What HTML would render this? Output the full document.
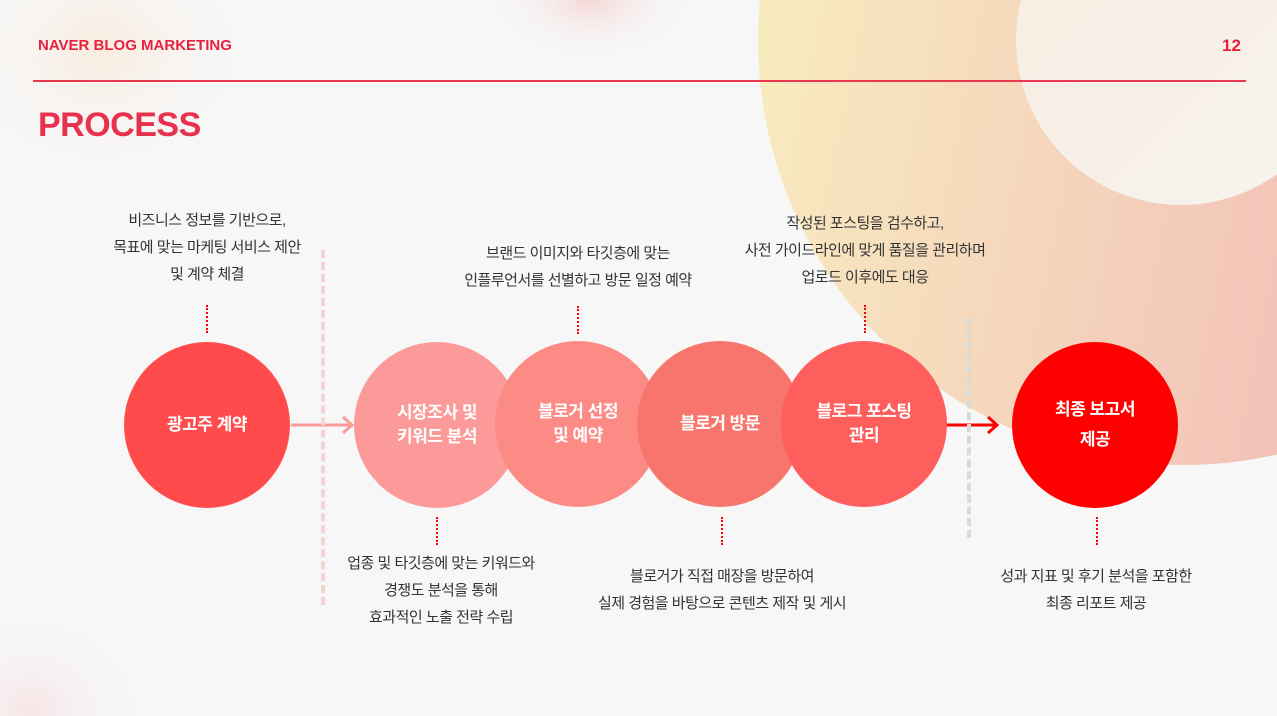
<!DOCTYPE html>
<html style="width:1277px;height:716px;overflow:hidden"><head><meta charset="utf-8"><style>
html,body{margin:0;padding:0}
body{width:1277px;height:716px;overflow:hidden;background:#f7f7f7;font-family:"Liberation Sans","Noto Sans CJK KR",sans-serif}
#w{position:relative;width:1277px;height:716px;overflow:hidden}
.a{position:absolute}
.c{position:absolute;width:166px;height:166px;border-radius:50%;display:flex;align-items:center;justify-content:center;text-align:center;color:#fff;font-size:17px;font-weight:bold;line-height:24px;letter-spacing:-0.5px}
.t{position:absolute;text-align:center;color:#333;font-size:15px;line-height:27px;letter-spacing:-0.5px;white-space:nowrap}
.d{position:absolute;width:0;border-left:2.5px dotted #f00;height:28px}
</style></head><body><div id="w">
<svg class="a" style="left:0;top:0" width="1277" height="716">
<defs>
<radialGradient id="b1"><stop offset="0" stop-color="#f5afaf" stop-opacity=".45"/><stop offset="1" stop-color="#f7f7f7" stop-opacity="0"/></radialGradient>
<radialGradient id="b2"><stop offset="0" stop-color="#fae4cd" stop-opacity=".6"/><stop offset="1" stop-color="#f7f7f7" stop-opacity="0"/></radialGradient>
<radialGradient id="b3"><stop offset="0" stop-color="#f8cdd2" stop-opacity=".45"/><stop offset="1" stop-color="#f7f7f7" stop-opacity="0"/></radialGradient>
<linearGradient id="g1" x1="0" y1="0" x2="1" y2="0.2"><stop offset="0" stop-color="#f9f1c0"/><stop offset=".35" stop-color="#f6dcbd"/><stop offset=".7" stop-color="#f3c7b9"/><stop offset="1" stop-color="#efb5ae"/></linearGradient>
<linearGradient id="g2" x1="0" y1="0" x2="1" y2="1"><stop offset="0" stop-color="#f8ede0"/><stop offset="1" stop-color="#f6f3ef"/></linearGradient>
</defs>
<ellipse cx="590" cy="0" rx="105" ry="60" fill="url(#b1)"/>
<ellipse cx="100" cy="50" rx="160" ry="130" fill="url(#b2)"/>
<ellipse cx="30" cy="710" rx="120" ry="100" fill="url(#b3)"/>
<circle cx="1183" cy="40" r="425" fill="url(#g1)"/>
<circle cx="1181" cy="40" r="165" fill="url(#g2)"/>
<path d="M291 425H351M343 417L352 425L343 433" stroke="#fc9a9a" stroke-width="3" fill="none"/>
<path d="M945 425H996M988 417L997 425L988 433" stroke="#f00" stroke-width="3" fill="none"/>
</svg>
<div class="a" style="left:38px;top:37px;color:#e8213f;font-weight:bold;font-size:15px">NAVER BLOG MARKETING</div>
<div class="a" style="left:1222px;top:36px;color:#e8213f;font-weight:bold;font-size:17px">12</div>
<div class="a" style="left:33px;top:80px;width:1213px;height:2px;background:#e8374f"></div>
<div class="a" style="left:38px;top:106px;color:#e8304f;font-weight:bold;font-size:34px;letter-spacing:-0.5px">PROCESS</div>
<div class="a" style="left:321px;top:250px;height:355px;border-left:4px dashed #f6d3d3"></div>
<div class="a" style="left:967px;top:318px;height:220px;border-left:4px dashed #d6dcd9"></div>
<div class="c" style="left:124px;top:342px;background:#ff4b4b">광고주 계약</div>
<div class="c" style="left:354px;top:342px;background:#fc9a9a">시장조사 및<br>키워드 분석</div>
<div class="c" style="left:495px;top:341px;background:#fc8a85">블로거 선정<br>및 예약</div>
<div class="c" style="left:637px;top:341px;background:#f8756e">블로거 방문</div>
<div class="c" style="left:781px;top:341px;background:#fe5f5c">블로그 포스팅<br>관리</div>
<div class="c" style="left:1012px;top:342px;background:#f00;line-height:30px">최종 보고서<br>제공</div>
<div class="d" style="left:206px;top:305px"></div>
<div class="d" style="left:577px;top:306px"></div>
<div class="d" style="left:864px;top:305px"></div>
<div class="d" style="left:436px;top:517px"></div>
<div class="d" style="left:721px;top:517px"></div>
<div class="d" style="left:1096px;top:517px"></div>
<div class="t" style="left:57px;width:300px;top:207px">비즈니스 정보를 기반으로,<br>목표에 맞는 마케팅 서비스 제안<br>및 계약 체결</div>
<div class="t" style="left:428px;width:300px;top:240px">브랜드 이미지와 타깃층에 맞는<br>인플루언서를 선별하고 방문 일정 예약</div>
<div class="t" style="left:715px;width:300px;top:210px">작성된 포스팅을 검수하고,<br>사전 가이드라인에 맞게 품질을 관리하며<br>업로드 이후에도 대응</div>
<div class="t" style="left:291px;width:300px;top:550px">업종 및 타깃층에 맞는 키워드와<br>경쟁도 분석을 통해<br>효과적인 노출 전략 수립</div>
<div class="t" style="left:572px;width:300px;top:563px">블로거가 직접 매장을 방문하여<br>실제 경험을 바탕으로 콘텐츠 제작 및 게시</div>
<div class="t" style="left:946px;width:300px;top:563px">성과 지표 및 후기 분석을 포함한<br>최종 리포트 제공</div>
</div></body></html>
